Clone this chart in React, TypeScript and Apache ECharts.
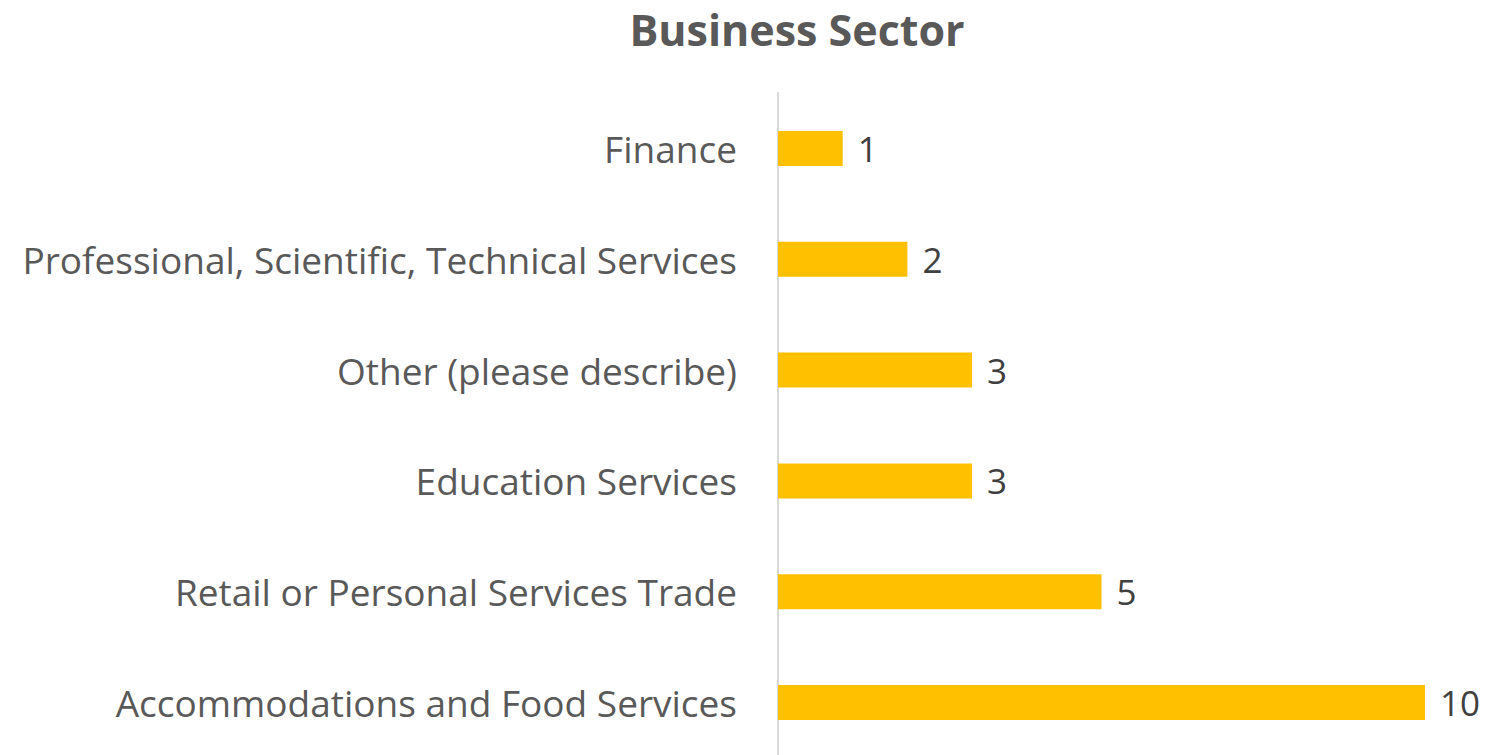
import React, { useEffect, useRef } from "react";
import * as echarts from "echarts";

const categories = [
  "Accommodations and Food Services",
  "Retail or Personal Services Trade",
  "Education Services",
  "Other (please describe)",
  "Professional, Scientific, Technical Services",
  "Finance",
];
const values = [10, 5, 3, 3, 2, 1];
const titleText = "Business Sector";

export default function App() {
  const ref = useRef<HTMLDivElement>(null);
  useEffect(() => {
    document.body.style.margin = "0";
    document.body.style.overflow = "hidden";
    const chart = echarts.init(ref.current!, null, { renderer: "svg" });
    const font = "'Open Sans', 'Noto Sans', sans-serif";
    chart.setOption({
      animation: false,
      title: {
        text: titleText,
        left: 792,
        textAlign: "center",
        top: 3,
        textStyle: { fontFamily: font, fontSize: 43, fontWeight: "bold", color: "#595959" },
      },
      grid: { left: 778, right: 66, top: 93, bottom: 12, containLabel: false },
      xAxis: {
        type: "value",
        min: 0,
        max: 10,
        show: false,
      },
      yAxis: {
        type: "category",
        data: categories,
        axisLine: { show: true, lineStyle: { color: "#d9d9d9", width: 2 } },
        axisTick: { show: false },
        axisLabel: { fontFamily: font, fontSize: 37, color: "#595959", margin: 41 },
        splitLine: { show: false },
      },
      series: [
        {
          type: "bar",
          data: values,
          barWidth: 35,
          itemStyle: { color: "#FFC000" },
          label: {
            show: true,
            position: "right",
            distance: 15,
            fontFamily: font,
            fontSize: 35,
            color: "#404040",
          },
        },
      ],
    });
    return () => chart.dispose();
  }, []);
  return <div ref={ref} style={{ width: 1491, height: 770 }} />;
}
